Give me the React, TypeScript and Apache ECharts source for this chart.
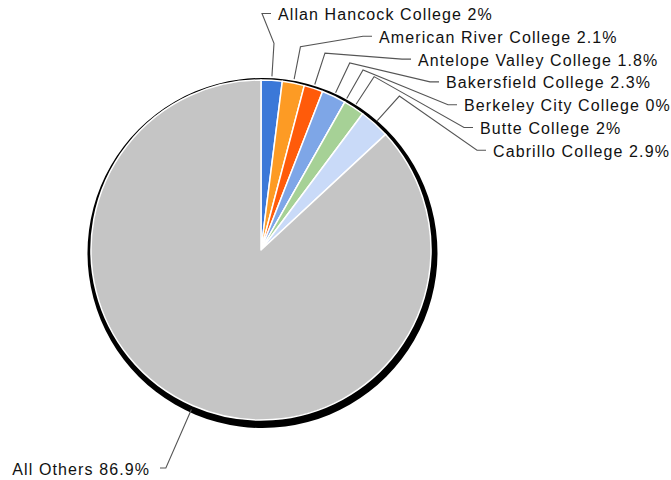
import React, { useEffect, useRef } from "react";
import * as echarts from "echarts";

const categories = [
  "Allan Hancock College",
  "American River College",
  "Antelope Valley College",
  "Bakersfield College",
  "Berkeley City College",
  "Butte College",
  "Cabrillo College",
  "All Others",
];
const values = [2, 2.1, 1.8, 2.3, 0, 2, 2.9, 86.9];
const colors = [
  "#3b78d8",
  "#fd9b24",
  "#ff5b0a",
  "#7ea6e7",
  "#9fc5e8",
  "#a6d196",
  "#c9daf8",
  "#c5c5c5",
];

// label placement (LibreOffice-like stacked labels on the right)
const rightLabelX = [278, 379, 418, 446, 464, 480, 493];
const rightLabelTop = 14.5;
const rightLabelStep = 22.8;

const CX = 261;
const CY = 250;
const R = 170;

export default function App() {
  const ref = useRef<HTMLDivElement>(null);
  useEffect(() => {
    if (!ref.current) return;
    const chart = echarts.init(ref.current, null, { renderer: "svg" });
    const data = categories.map((name, i) => ({
      name,
      value: values[i],
      itemStyle: { color: colors[i] },
    }));
    chart.setOption({
      animation: false,
      backgroundColor: "#ffffff",
      series: [
        {
          type: "pie",
          silent: true,
          z: 1,
          center: [CX + 1.5, CY + 3],
          radius: R + 5,
          data: [{ value: 1, name: "", itemStyle: { color: "#000000" } }],
          label: { show: false },
          labelLine: { show: false },
          emphasis: { disabled: true },
        },
        {
          type: "pie",
          z: 2,
          center: [CX, CY],
          radius: R,
          startAngle: 90,
          clockwise: true,
          avoidLabelOverlap: false,
          data,
          itemStyle: { borderColor: "#ffffff", borderWidth: 1.5 },
          label: {
            show: true,
            formatter: "{b} {c}%",
            fontFamily: "Liberation Sans",
            fontSize: 16,
            color: "#111111",
          },
          labelLine: {
            show: true,
            length: 36,
            length2: 10,
            lineStyle: { color: "#555555", width: 1.1 },
          },
          labelLayout: (params: any) => {
            const idx = params.dataIndex;
            const p0 = params.labelLinePoints
              ? params.labelLinePoints[0]
              : [CX, CY - R];
            let dx = p0[0] - CX;
            let dy = p0[1] - CY;
            const len = Math.sqrt(dx * dx + dy * dy) || 1;
            dx /= len;
            dy /= len;
            const start = [CX + dx * (R + 4), CY + dy * (R + 4)];
            if (idx < rightLabelX.length) {
              const ly = rightLabelTop + idx * rightLabelStep;
              const lx = rightLabelX[idx];
              const lineY = ly - 1;
              const elbow = [CX + dx * 207, CY + dy * 207];
              return {
                x: lx,
                y: ly,
                align: "left",
                verticalAlign: "middle",
                labelLinePoints: [
                  start,
                  elbow,
                  [lx - 16, lineY],
                  [lx - 7, lineY],
                ],
              };
            }
            const ly = 469;
            const lineY = 468;
            const r = (lineY - CY) / (dy || 1);
            const elbow = [CX + dx * r, CY + dy * r];
            return {
              x: 150,
              y: ly,
              align: "right",
              verticalAlign: "middle",
              labelLinePoints: [start, elbow, [160, lineY]],
            };
          },
          emphasis: { disabled: true },
        },
      ],
    });
    return () => chart.dispose();
  }, []);
  return (
    <div
      ref={ref}
      style={{
        position: "fixed",
        left: 0,
        top: 0,
        width: 671,
        height: 480,
        letterSpacing: "1.1px",
      }}
    />
  );
}
